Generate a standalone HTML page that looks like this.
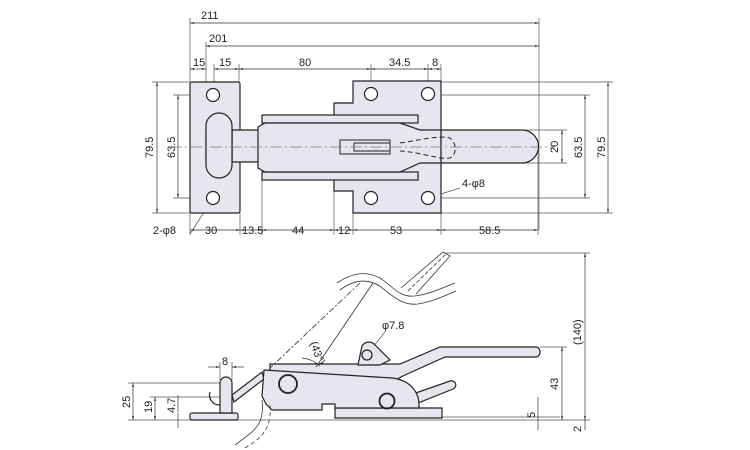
<!DOCTYPE html>
<html><head><meta charset="utf-8"><style>
html,body{margin:0;padding:0;background:#fff}
svg{display:block}
text{font-family:"Liberation Sans",sans-serif;font-size:11px;fill:#222}
</style></head><body>
<svg width="750" height="450" viewBox="0 0 750 450" xmlns="http://www.w3.org/2000/svg">
<defs>
<marker id="a" viewBox="0 0 6 6" refX="6" refY="3" markerWidth="6" markerHeight="6" orient="auto-start-reverse"><path d="M0,1.5L6,3L0,4.5z" fill="#333"/></marker>
</defs>
<g stroke="#555" stroke-width="0.7" fill="none">
<line x1="190" y1="18" x2="190" y2="82"/><line x1="539" y1="18" x2="539" y2="230"/>
<line x1="206" y1="42" x2="206" y2="95"/><line x1="214" y1="64" x2="214" y2="95"/>
<line x1="239" y1="64" x2="239" y2="82"/><line x1="371" y1="64" x2="371" y2="95"/>
<line x1="428" y1="64" x2="428" y2="95"/><line x1="441" y1="64" x2="441" y2="82"/>
</g>
<g stroke="#333" stroke-width="0.7" marker-start="url(#a)" marker-end="url(#a)">
<line x1="190" y1="23" x2="539" y2="23"/>
<line x1="206" y1="46" x2="539" y2="46"/>
<line x1="190" y1="69" x2="206" y2="69"/><line x1="214" y1="69" x2="239" y2="69"/>
<line x1="239" y1="69" x2="371" y2="69"/><line x1="371" y1="69" x2="428" y2="69"/>
<line x1="428" y1="69" x2="441" y2="69"/>
<line x1="157" y1="82" x2="157" y2="213"/><line x1="178" y1="95" x2="178" y2="198"/>
<line x1="562" y1="130" x2="562" y2="163"/><line x1="585" y1="95" x2="585" y2="198"/>
<line x1="608" y1="82" x2="608" y2="213"/>
<line x1="190" y1="230" x2="240" y2="230"/><line x1="240" y1="230" x2="262" y2="230"/>
<line x1="262" y1="230" x2="334" y2="230"/><line x1="334" y1="230" x2="353" y2="230"/>
<line x1="353" y1="230" x2="441" y2="230"/><line x1="441" y1="230" x2="538" y2="230"/>
</g>
<g stroke="#555" stroke-width="0.7">
<line x1="152" y1="82" x2="190" y2="82"/><line x1="152" y1="213" x2="190" y2="213"/>
<line x1="173" y1="95" x2="213" y2="95"/><line x1="173" y1="198" x2="213" y2="198"/>
<line x1="441" y1="82" x2="613" y2="82"/><line x1="441" y1="213" x2="613" y2="213"/>
<line x1="428" y1="95" x2="590" y2="95"/><line x1="428" y1="198" x2="590" y2="198"/>
<line x1="520" y1="130" x2="567" y2="130"/><line x1="520" y1="163" x2="567" y2="163"/>
<line x1="190" y1="213" x2="190" y2="235"/><line x1="240" y1="213" x2="240" y2="235"/>
<line x1="262" y1="180" x2="262" y2="235"/><line x1="334" y1="191" x2="334" y2="235"/>
<line x1="353" y1="213" x2="353" y2="235"/><line x1="441" y1="213" x2="441" y2="235"/>
<line x1="538" y1="147" x2="538" y2="235"/>
<line x1="190" y1="234" x2="213" y2="198"/><line x1="460" y1="188" x2="428" y2="198"/>
</g>
<g fill="#333">
<text x="201" y="19">211</text><text x="209" y="42">201</text>
<text x="193" y="66">15</text><text x="219" y="66">15</text><text x="299" y="66">80</text>
<text x="389" y="66">34.5</text><text x="432" y="66">8</text>
<text x="205" y="234">30</text><text x="242" y="234">13.5</text><text x="292" y="234">44</text>
<text x="338" y="234">12</text><text x="390" y="234">53</text><text x="479" y="234">58.5</text>
<text x="153" y="234">2-φ8</text><text x="462" y="187">4-φ8</text>
<text transform="translate(153,158) rotate(-90)">79.5</text>
<text transform="translate(175,158) rotate(-90)">63.5</text>
<text transform="translate(558,153) rotate(-90)">20</text>
<text transform="translate(582,158) rotate(-90)">63.5</text>
<text transform="translate(605,158) rotate(-90)">79.5</text>
</g>
<g stroke="#222" stroke-width="1.2" fill="#e6e6ee">
<rect x="190" y="82" width="50" height="131" rx="2"/>
<path d="M353,81 H441 V213 H353 V191 H334 V103 H353 Z"/>
<rect x="262" y="115" width="156" height="8"/>
<rect x="262" y="172" width="156" height="8"/>
<path d="M232,130 H262 V162 H232 Z"/>
<path d="M258,127 L265,123 H400 L420,130 H441 V163 H420 L400,172 H265 L258,168 Z"/>
<path d="M441,130 H522 A16,16 0 0 1 522,163 H441 Z"/>
<rect x="206" y="128" width="26" height="35" rx="2"/>
<rect x="206" y="113" width="26" height="65" rx="13"/>
<circle cx="213" cy="95" r="6.5" fill="#fff"/><circle cx="213" cy="198" r="6.5" fill="#fff"/>
<circle cx="371" cy="94" r="6.5" fill="#fff"/><circle cx="428" cy="94" r="6.5" fill="#fff"/>
<circle cx="371" cy="198" r="6.5" fill="#fff"/><circle cx="428" cy="198" r="6.5" fill="#fff"/>
<rect x="340" y="140" width="50" height="14" fill="none" stroke-width="1"/>
<rect x="354" y="143" width="36" height="8" fill="none" stroke-width="1"/>
</g>
<path d="M400,143 C420,140 440,135 450,138 C458,145 456,155 450,158 C440,160 420,152 400,151" stroke="#222" stroke-dasharray="5,3" fill="none"/>
<line x1="170" y1="147" x2="555" y2="147" stroke="#777" stroke-width="0.8" stroke-dasharray="12,3,2,3"/>
<g stroke="#555" stroke-width="0.7">
<line x1="128" y1="383" x2="220" y2="383"/><line x1="150" y1="397" x2="220" y2="397"/>
<line x1="128" y1="420" x2="590" y2="420"/><line x1="442" y1="417" x2="560" y2="417"/>
<line x1="540" y1="347" x2="567" y2="347"/><line x1="445" y1="253" x2="590" y2="253"/>
<line x1="220" y1="362" x2="220" y2="380"/><line x1="232" y1="362" x2="232" y2="380"/>
<line x1="385" y1="332" x2="368" y2="353"/>
</g>
<g stroke="#333" stroke-width="0.7" marker-start="url(#a)" marker-end="url(#a)">
<line x1="133" y1="383" x2="133" y2="420"/><line x1="155" y1="397" x2="155" y2="420"/>
<line x1="562" y1="347" x2="562" y2="420"/><line x1="585" y1="253" x2="585" y2="420"/>
<line x1="208" y1="367" x2="220" y2="367" marker-start="none"/><line x1="244" y1="367" x2="232" y2="367" marker-start="none"/>
</g>
<g stroke="#333" stroke-width="0.7"><line x1="178" y1="395" x2="178" y2="412"/><line x1="178" y1="413" x2="178" y2="428"/>
<line x1="538" y1="397" x2="538" y2="430"/><line x1="585" y1="420" x2="585" y2="430"/></g>
<g>
<text transform="translate(130,408) rotate(-90)">25</text>
<text transform="translate(152,413) rotate(-90)">19</text>
<text transform="translate(175,413) rotate(-90)">4.7</text>
<text x="222" y="365">8</text>
<text transform="translate(535,418) rotate(-90)">5</text>
<text transform="translate(558,390) rotate(-90)">43</text>
<text transform="translate(581,345) rotate(-90)">(140)</text>
<text transform="translate(581,432) rotate(-90)">2</text>
<text x="382" y="329">φ7.8</text>
<text transform="translate(310,343) rotate(70)">(43°)</text>
</g>
<g stroke="#222" stroke-width="1.2" fill="#e6e6ee">
<rect x="190" y="413" width="48" height="7" rx="2"/>
<path d="M220,413 V383 A6,6 0 0 1 232,383 V413 Z"/>
<path d="M210,392 A10,10 0 0 0 220,405" fill="none"/>
<path d="M232,395 L262,372 L264,379 L234,402 Z"/>
<path d="M335,408 H442 V418 H335 Z"/>
<path d="M270,364 H400 L440,347 H536 A4,5 0 0 1 536,357 H445 L405,375 L395,380 L270,375 Z"/>
<path d="M410,395 L450,381 A4,4 0 0 1 453,389 L418,403 Z"/>
<path d="M358,365 L362,346 A8,8 0 0 1 375,345 L390,360 L380,365 Z"/>
<path d="M264,370 L392,378 C410,380 420,392 419,408 H335 V404 H322 V410 H272 L266,404 L262,396 Z"/>
<circle cx="288" cy="384" r="9" fill="none" stroke-width="1.8"/>
<circle cx="387" cy="401" r="7.5" fill="none" stroke-width="1.8"/>
<circle cx="367" cy="355" r="5" fill="none"/>
</g>
<g stroke="#333" stroke-width="0.8" fill="none">
<path d="M337,283 C350,274 365,270 380,278 C392,286 400,298 415,296 C430,294 442,288 455,283"/>
<path d="M340,290 C352,281 365,278 378,285 C390,293 400,306 418,304 C432,302 444,296 456,291"/>
<path d="M401,288 L443,252 L450,256 L416,294" />
<line x1="408" y1="291" x2="446" y2="254" stroke-dasharray="4,2"/>
<path d="M373,283 L316,367" />
<path d="M235,445 C255,430 265,425 262,400" />
<path d="M245,448 C262,438 272,428 270,405" stroke-dasharray="4,3"/>
<path d="M360,283 L270,368" stroke-dasharray="6,2,2,2"/>
<path d="M302,358 A30,30 0 0 1 320,366" />
</g>
</svg>
</body></html>
